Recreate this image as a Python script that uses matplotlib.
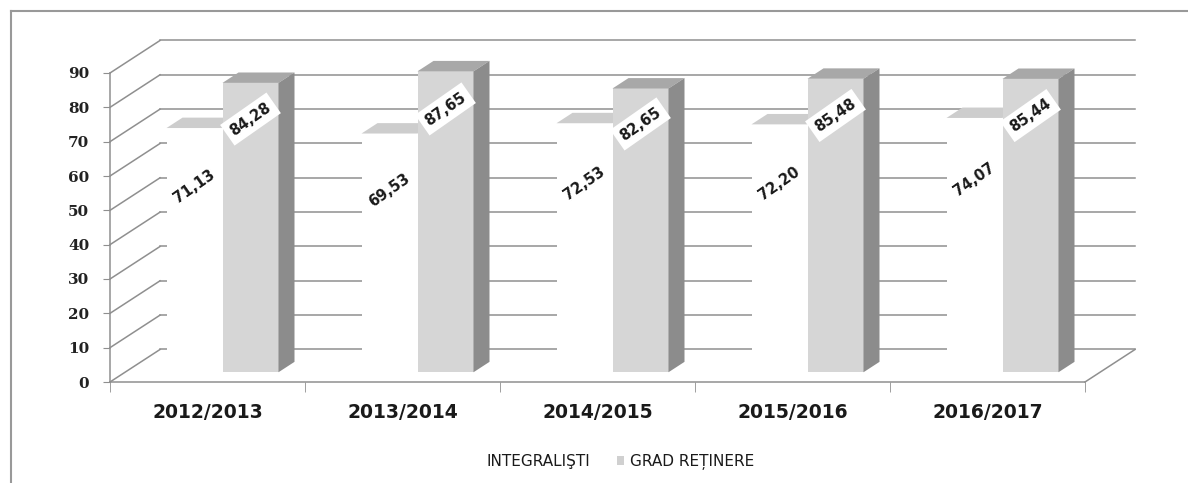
import matplotlib
matplotlib.use("Agg")
import matplotlib.pyplot as plt
from matplotlib.patches import Polygon, Patch
from matplotlib.lines import Line2D
import numpy as np

# ---- data ----
categories = ["2012/2013", "2013/2014", "2014/2015", "2015/2016", "2016/2017"]
integralisti = [71.13, 69.53, 72.53, 72.20, 74.07]
grad_retinere = [84.28, 87.65, 82.65, 85.48, 85.44]
series_names = ["INTEGRALIŞTI", "GRAD REȚINERE"]
yticks = [0, 10, 20, 30, 40, 50, 60, 70, 80, 90]

def fmt(v):
    return f"{v:.2f}".replace(".", ",")

# ---- style / geometry ----
W, H = 1188, 483
fig = plt.figure(figsize=(W / 100, H / 100), dpi=100)
ax = fig.add_axes([110 / W, 101 / H, 975 / W, 309 / H])
ax.set_xlim(0, 5)
ax.set_ylim(0, 90)

GRID = "#8f8f8f"
DX, DY = 50 / 195, 32.5 / 3.433      # wall depth in data units
d0, d1 = 0.30, 0.62                    # bar depth range (fraction of wall)
bw = 56 / 195                          # bar width
ddx, ddy = (d1 - d0) * DX, (d1 - d0) * DY
base = d0 * DY

n = len(categories)
# back wall gridlines + left wall diagonals
for v in yticks:
    ax.plot([DX, n + DX], [v + DY, v + DY], color=GRID, lw=1.1,
            clip_on=False, zorder=1)
    ax.plot([0, DX], [v, v + DY], color=GRID, lw=1.1, clip_on=False, zorder=1)
# floor right edge
ax.plot([n, n + DX], [0, DY], color=GRID, lw=1.1, clip_on=False, zorder=1)

centers = np.arange(n) + 0.5
xw = centers + d0 * DX - bw
xg = centers + d0 * DX

# white bars (front faces)
ax.bar(xw, integralisti, width=bw, bottom=base, align="edge", color="white",
       edgecolor="none", zorder=3, clip_on=False)
for x, v in zip(xw, integralisti):
    t = base + v
    ax.add_patch(Polygon([(x, t), (x + bw, t), (x + bw + ddx, t + ddy), (x + ddx, t + ddy)],
                         closed=True, fc="#cdcdcd", ec="none", zorder=3, clip_on=False))

# grey bars
ax.bar(xg, grad_retinere, width=bw, bottom=base, align="edge", color="#d6d6d6",
       edgecolor="none", zorder=4, clip_on=False)
for x, v in zip(xg, grad_retinere):
    t = base + v
    ax.add_patch(Polygon([(x, t), (x + bw, t), (x + bw + ddx, t + ddy), (x + ddx, t + ddy)],
                         closed=True, fc="#a8a8a8", ec="none", zorder=4, clip_on=False))
    ax.add_patch(Polygon([(x + bw, base), (x + bw, t), (x + bw + ddx, t + ddy), (x + bw + ddx, base + ddy)],
                         closed=True, fc="#8c8c8c", ec="none", zorder=4, clip_on=False))

# data labels
for x, v in zip(xw, integralisti):
    ax.text(x + bw / 2, base + 0.76 * v, fmt(v), rotation=35, ha="center", va="center",
            fontsize=10.5, fontweight="bold", color="#1a1a1a", zorder=6,
            bbox=dict(boxstyle="square,pad=0.25", fc="white", ec="none"))
for x, v in zip(xg, grad_retinere):
    ax.text(x + bw / 2, base + 0.875 * v, fmt(v), rotation=35, ha="center", va="center",
            fontsize=10.5, fontweight="bold", color="#1a1a1a", zorder=6,
            bbox=dict(boxstyle="square,pad=0.35", fc="white", ec="none"))

# axes styling
for s in ["top", "right"]:
    ax.spines[s].set_visible(False)
ax.spines["left"].set_color(GRID)
ax.spines["bottom"].set_color(GRID)
ax.spines["left"].set_linewidth(1.1)
ax.spines["bottom"].set_linewidth(1.1)
ax.set_yticks(yticks)
ax.set_yticklabels([str(v) for v in yticks], fontfamily="DejaVu Serif",
                   fontweight="bold", fontsize=11, color="#222222")
ax.tick_params(axis="y", length=5, color=GRID, pad=10)
ax.set_xticks(centers)
ax.set_xticklabels(categories, fontsize=13.5, fontweight="bold", color="#1a1a1a")
ax.set_xticks(np.arange(n + 1), minor=True)
ax.tick_params(axis="x", which="major", length=0, pad=15)
ax.tick_params(axis="x", which="minor", length=7, color=GRID)
ax.patch.set_alpha(0)

# legend
handles = [Patch(fc="white", ec="none"), Patch(fc="#d0d0d0", ec="none")]
fig.legend(handles, series_names, loc="center", bbox_to_anchor=(0.5164, 1 - 462 / H),
           bbox_transform=fig.transFigure, ncol=2, frameon=False,
           handlelength=0.5, handleheight=0.5, handletextpad=0.4, columnspacing=1.75,
           borderpad=0, prop=dict(size=11), labelcolor="#1a1a1a")

# outer frame (top and left)
fig.add_artist(Line2D([11 / W, 1.0], [1 - 11 / H, 1 - 11 / H], transform=fig.transFigure,
                      color="#999999", lw=1.5))
fig.add_artist(Line2D([11 / W, 11 / W], [0, 1 - 11 / H], transform=fig.transFigure,
                      color="#999999", lw=1.5))

fig.savefig("out.png", dpi=100)
